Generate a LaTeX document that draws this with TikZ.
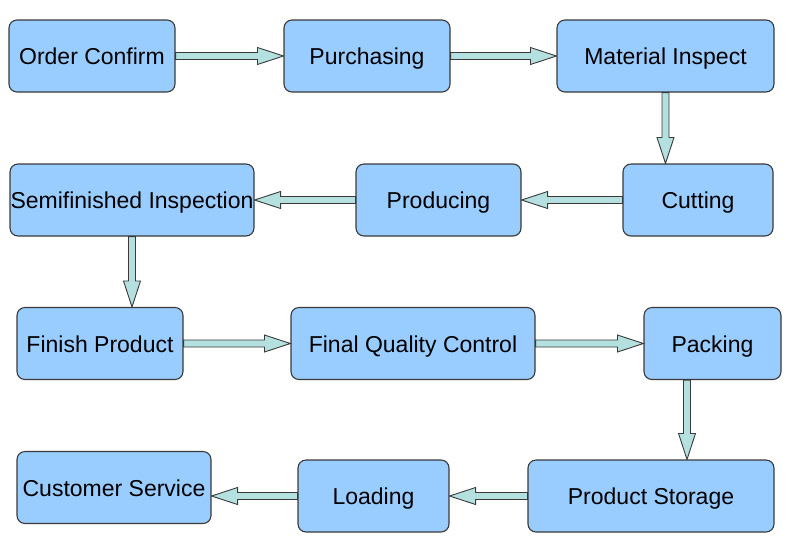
\documentclass[tikz,border=0pt]{standalone}
\usepackage{fontspec}
\setmainfont{Liberation Sans}
\usetikzlibrary{calc}

\definecolor{boxblue}{HTML}{99CCFF}
\definecolor{arrowcyan}{HTML}{B4E0E0}
\definecolor{edgegray}{HTML}{3A3A3A}

% block arrow from one anchor to another
\newcommand{\flowarrow}[2]{%
  \coordinate (fa-s) at (#1);
  \coordinate (fa-e) at (#2);
  \coordinate (fa-h) at ($(fa-e)!26pt!(fa-s)$);
  \filldraw[flow] ($(fa-s)!3.5pt!90:(fa-e)$) -- ($(fa-h)!3.5pt!-90:(fa-s)$)
    -- ($(fa-h)!8.5pt!-90:(fa-s)$) -- (fa-e) -- ($(fa-h)!8.5pt!90:(fa-s)$)
    -- ($(fa-h)!3.5pt!90:(fa-s)$) -- ($(fa-s)!3.5pt!-90:(fa-e)$) -- cycle;}

\begin{document}
\begin{tikzpicture}[
  x=1pt, y=-1pt,
  stage/.style={draw=edgegray, line width=1.1pt, rounded corners=8pt, fill=boxblue,
                minimum width=#1, minimum height=72pt, inner sep=0pt,
                text height=18pt, text depth=1pt,
                font=\fontsize{23}{27}\selectfont},
  flow/.style={fill=arrowcyan, draw=edgegray, line width=0.9pt, line join=miter}
]
  \useasboundingbox (0,0) rectangle (800,542);

  %-- Row 1
  \node[stage=166pt] (order)    at (92,   56)  {Order Confirm};
  \node[stage=166pt] (purch)    at (367,  56)  {Purchasing};
  \node[stage=217pt] (matinsp)  at (665.5,56)  {Material Inspect};

  %-- Row 2
  \node[stage=150pt] (cutting)  at (698,  200) {Cutting};
  \node[stage=165pt] (produce)  at (438.5,200) {Producing};
  \node[stage=244pt] (semi)     at (132,  200) {Semifinished Inspection};

  %-- Row 3
  \node[stage=166pt] (finish)   at (100,  343.5) {Finish Product};
  \node[stage=244pt] (fqc)      at (413,  343.5) {Final Quality Control};
  \node[stage=137pt] (packing)  at (712.5,343.5) {Packing};

  %-- Row 4
  \node[stage=246pt] (storage)  at (651,  496) {Product Storage};
  \node[stage=151pt] (loading)  at (373.5,496) {Loading};
  \node[stage=194pt] (customer) at (114,  487.5) {Customer Service};

  %-- Arrows
  \flowarrow{order.east}{order.east -| purch.west}
  \flowarrow{purch.east}{purch.east -| matinsp.west}
  \flowarrow{matinsp.south}{matinsp.south |- cutting.north}
  \flowarrow{cutting.west}{cutting.west -| produce.east}
  \flowarrow{produce.west}{produce.west -| semi.east}
  \flowarrow{semi.south}{semi.south |- finish.north}
  \flowarrow{finish.east}{finish.east -| fqc.west}
  \flowarrow{fqc.east}{fqc.east -| packing.west}
  \flowarrow{[xshift=-25.5pt]packing.south}{[xshift=-25.5pt]packing.south |- storage.north}
  \flowarrow{storage.west}{storage.west -| loading.east}
  \flowarrow{loading.west}{loading.west -| customer.east}
\end{tikzpicture}
\end{document}
